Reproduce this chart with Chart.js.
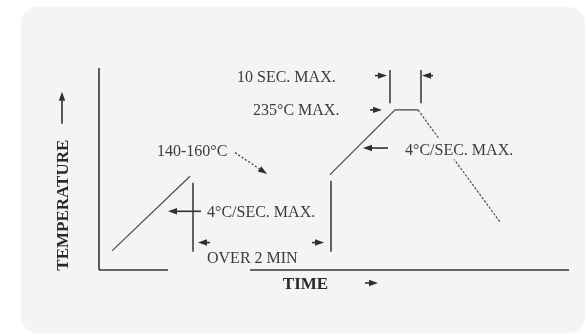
<!DOCTYPE html>
<html>
<head>
<meta charset="utf-8">
<script src="https://cdn.jsdelivr.net/npm/chart.js@4.4.1/dist/chart.umd.min.js"></script>
<style>
  html, body { margin: 0; padding: 0; background: #ffffff; }
  #card {
    position: absolute; left: 21px; top: 7px; width: 564px; height: 326px;
    background: #f4f4f4; border-radius: 16px;
  }
  #grafica { position: absolute; left: 0; top: 0; }
</style>
</head>
<body>
<div id="card"></div>
<canvas id="grafica" width="588" height="333"></canvas>
<script>
// ==============================
// DATOS (tiempo en s, temperatura en °C)
// ==============================
const profileTime = [13, 91, 150, 231, 296, 319, 401];
const profileTemp = [50, 148, null, 150, 235, 235, 88];

const axisXTime = [0, 69, 110, 151, 470];
const axisXTemp = [25, 25, null, 25, 25];
const axisYTime = [0, 0];
const axisYTemp = [25, 290];

const markerTime = [94, 94, 150, 232, 232, 260, 291, 291, 305, 322, 322];
const markerTemp = [49, 139.5, null, 49, 142, null, 243.7, 287.4, null, 243.7, 287.4];

// textos: [texto, tiempo, temp]
const textLabels = [
  ["140-160°C", 58, 182],
  ["4°C/SEC. MAX.", 108, 101.5],
  ["OVER 2 MIN", 108, 41],
  ["10 SEC. MAX.", 138, 279],
  ["235°C MAX.", 154, 235],
  ["4°C/SEC. MAX.", 306, 183]
];

// flechas: [t cola, temp cola, t punta, temp punta]
const arrows = [
  [102, 102, 69, 102],
  [111, 61, 99, 61],
  [213, 61, 225, 61],
  [276, 280, 288, 280],
  [334, 280, 323, 280],
  [271, 235, 283, 235],
  [289, 185, 264, 185],
  [266, 8, 279, 8]
];

function pts(xs, ys) {
  return xs.map((x, i) => ({ x: x, y: ys[i] }));
}

const FONT = '"Liberation Serif", "DejaVu Serif", serif';
const INK = "#2f2f2f";

function drawArrow(ctx, x1, y1, x2, y2, dashed) {
  const ang = Math.atan2(y2 - y1, x2 - x1);
  const hl = 9, hw = 3.2;
  const bx = x2 - hl * Math.cos(ang), by = y2 - hl * Math.sin(ang);
  ctx.save();
  ctx.strokeStyle = INK;
  ctx.fillStyle = INK;
  ctx.lineWidth = dashed ? 1.2 : 1.6;
  if (dashed) ctx.setLineDash([2, 2]);
  ctx.beginPath();
  ctx.moveTo(x1, y1);
  ctx.lineTo(bx, by);
  ctx.stroke();
  ctx.setLineDash([]);
  ctx.beginPath();
  ctx.moveTo(x2, y2);
  ctx.lineTo(bx - hw * Math.sin(ang), by + hw * Math.cos(ang));
  ctx.lineTo(bx + hw * Math.sin(ang), by - hw * Math.cos(ang));
  ctx.closePath();
  ctx.fill();
  ctx.restore();
}

// ==============================
// ANOTACIONES
// ==============================
const anotaciones = {
  id: "anotaciones",
  afterDatasetsDraw(chart) {
    const ctx = chart.ctx;
    const sx = chart.scales.x, sy = chart.scales.y;
    const px = v => sx.getPixelForValue(v);
    const py = v => sy.getPixelForValue(v);

    ctx.save();
    ctx.font = "16px " + FONT;
    ctx.textAlign = "left";
    ctx.textBaseline = "alphabetic";
    textLabels.forEach(([txt, t, c], i) => {
      const x = px(t), y = py(c);
      if (i === textLabels.length - 1) {
        const w = ctx.measureText(txt).width;
        ctx.fillStyle = "#f4f4f4";
        ctx.fillRect(x - 2, y - 11, w + 4, 21);
      }
      ctx.fillStyle = "#3c3c3c";
      ctx.fillText(txt, x, y + 5.3);
    });

    arrows.forEach(a => drawArrow(ctx, px(a[0]), py(a[1]), px(a[2]), py(a[3]), false));
    // flecha punteada 140-160°C
    drawArrow(ctx, px(136), py(179), px(168), py(151), true);

    // titulos de ejes
    ctx.font = "bold 17px " + FONT;
    ctx.fillStyle = "#2a2a2a";
    ctx.textAlign = "center";
    ctx.fillText("TIME", px(206.5), py(8) + 5.6);

    ctx.save();
    ctx.translate(px(-37), py(110));
    ctx.rotate(-Math.PI / 2);
    ctx.fillText("TEMPERATURE", 0, 5.6);
    ctx.restore();
    drawArrow(ctx, px(-37), py(217), px(-37), py(259), false);
    ctx.restore();
  }
};

const base = { showLine: true, pointRadius: 0, fill: false, clip: false, spanGaps: false };

new Chart(document.getElementById("grafica"), {
  type: "scatter",
  data: {
    datasets: [
      Object.assign({}, base, {
        data: pts(profileTime, profileTemp),
        borderColor: "#444444",
        borderWidth: 1.1,
        segment: {
          borderDash: c => (c.p0.parsed.x >= 319 ? [2.5, 1.5] : undefined)
        }
      }),
      Object.assign({}, base, {
        data: pts(axisXTime, axisXTemp),
        borderColor: "#333333",
        borderWidth: 1.6
      }),
      Object.assign({}, base, {
        data: pts(axisYTime, axisYTemp),
        borderColor: "#333333",
        borderWidth: 1.6
      }),
      Object.assign({}, base, {
        data: pts(markerTime, markerTemp),
        borderColor: "#333333",
        borderWidth: 1.5
      })
    ]
  },
  options: {
    responsive: false,
    animation: false,
    layout: { padding: { left: 99, right: 19, top: 68, bottom: 63 } },
    scales: {
      x: { type: "linear", min: 0, max: 470, display: false },
      y: { type: "linear", min: 25, max: 290, display: false }
    },
    plugins: { legend: { display: false }, tooltip: { enabled: false } }
  },
  plugins: [anotaciones]
});
</script>
</body>
</html>
